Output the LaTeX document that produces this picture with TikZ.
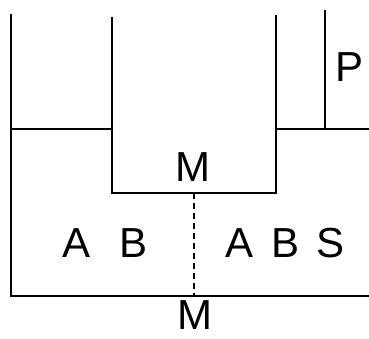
\documentclass[tikz,border=0pt]{standalone}
\usepackage{fontspec}
\setmainfont{Liberation Sans}
\begin{document}
\begin{tikzpicture}[x=1pt, y=-1pt, line width=1.4pt,
    lbl/.style={inner sep=0pt, font=\fontsize{42}{42}\selectfont}]
    \useasboundingbox (0,0) rectangle (369,338);
    % outer walls and floor
    \coordinate (TL) at (11,14); \coordinate (BL) at (11,296);
    \coordinate (BR) at (369,296);
    \coordinate (LS) at (11,129); \coordinate (RS) at (369,129);
    % inner well
    \coordinate (WLt) at (112,17); \coordinate (WLb) at (112,193);
    \coordinate (WRt) at (276,15); \coordinate (WRb) at (276,193);
    \coordinate (WM) at (194,193); \coordinate (FM) at (194,296);
    % P line
    \coordinate (Pt) at (325,10); \coordinate (Pb) at (325,129);
    \draw (TL) -- (BL) -- (BR);
    \draw (LS) -- (WLb |- LS);
    \draw (WLt) -- (WLb) -- (WRb) -- (WRt);
    \draw (WRb |- RS) -- (RS);
    \draw (Pt) -- (Pb);
    \draw[dashed, line width=1.4pt, dash pattern=on 6pt off 4pt] (WM) -- (FM);
    \node[lbl] (Mtop) at (193,167.5) {M};
    \node[lbl] (Mbot) at (194.5,315.5) {M};
    \node[lbl] (P) at (349.5,67.5) {P};
    \node[lbl] (A1) at (77,243.5) {A};
    \node[lbl] (B1) at (134,243.5) {B};
    \node[lbl] (A2) at (239.5,243.5) {A};
    \node[lbl] (B2) at (285.5,243.5) {B};
    \node[lbl] (S2) at (331,243.5) {S};
\end{tikzpicture}
\end{document}
